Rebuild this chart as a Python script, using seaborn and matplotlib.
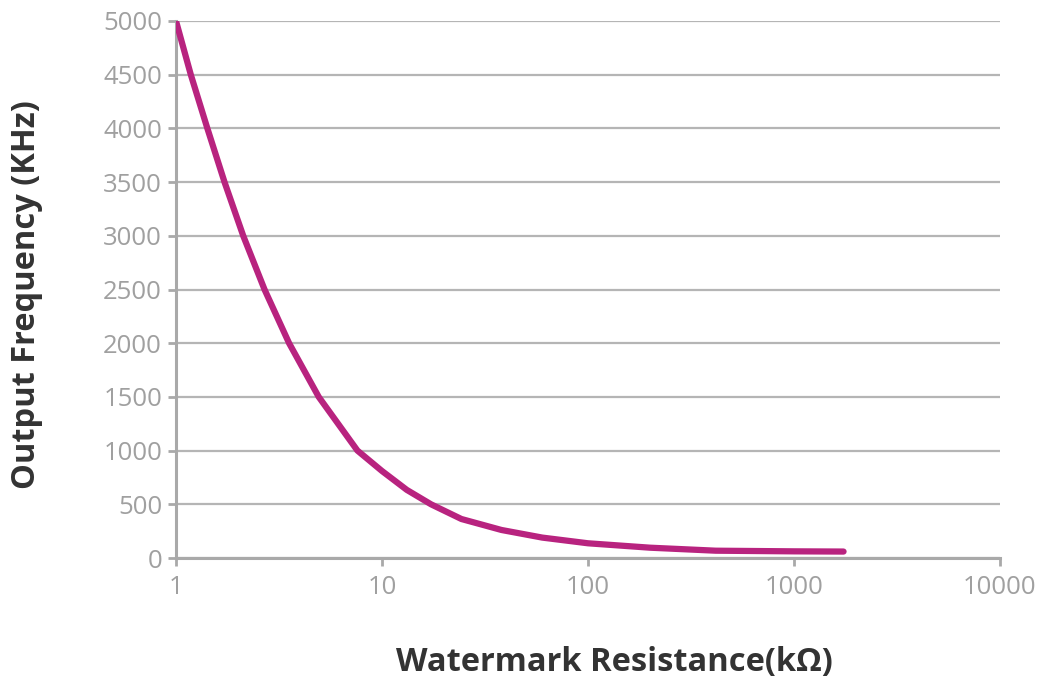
import matplotlib
matplotlib.use("Agg")
import matplotlib.pyplot as plt
import matplotlib.ticker as mticker
import numpy as np
import pandas as pd
import seaborn as sns

# values
resistance = [1, 1.18, 1.42, 1.72, 2.12, 2.69, 3.54, 4.93, 7.6, 10, 13.2, 17.3,
              24.3, 38, 60, 100, 200, 417, 1000, 1740]
frequency = [5000, 4500, 4000, 3500, 3000, 2500, 2000, 1500, 1000, 810, 634, 500,
             363, 261, 190, 137, 96, 68, 62, 60]

x_ticks = [1, 10, 100, 1000, 10000]
x_tick_labels = ["1", "10", "100", "1000", "10000"]
y_ticks = [0, 500, 1000, 1500, 2000, 2500, 3000, 3500, 4000, 4500, 5000]

df = pd.DataFrame({"res": resistance, "freq": frequency})

sns.set_style("white")
plt.rcParams["font.family"] = ["Open Sans", "DejaVu Sans"]

grey = "#a9a9a9"
fig = plt.figure(figsize=(10.43, 6.79), dpi=100)
ax = fig.add_axes([176 / 1043, 1 - 558 / 679, (1000 - 176) / 1043, (558 - 21) / 679])

sns.lineplot(data=df, x="res", y="freq", ax=ax, color="#b8237f", linewidth=4.5,
             solid_capstyle="round", solid_joinstyle="round", zorder=5)

ax.set_xscale("log")
ax.set_xlim(1, 10000)
ax.set_ylim(0, 5000)
ax.set_xticks(x_ticks)
ax.xaxis.set_major_formatter(mticker.FixedFormatter(x_tick_labels))
ax.xaxis.set_minor_locator(mticker.NullLocator())
ax.set_yticks(y_ticks)

ax.grid(axis="y", color="#b5b5b5", linewidth=1.6)
ax.set_axisbelow(True)
for side in ["top", "right"]:
    ax.spines[side].set_visible(False)
for side in ["left", "bottom"]:
    ax.spines[side].set_color(grey)
    ax.spines[side].set_linewidth(2.2)

ax.tick_params(axis="both", colors=grey, labelcolor="#a0a0a0", labelsize=18.5,
               length=6, width=2, direction="out", bottom=True, left=True)
ax.tick_params(axis="x", pad=6)
ax.tick_params(axis="y", pad=4)

ax.set_xlabel("Watermark Resistance(k\u03a9)", fontsize=23.5, fontweight="bold", color="#333333")
ax.set_ylabel("Output Frequency (KHz)", fontsize=23.5, fontweight="bold", color="#333333")
ax.xaxis.set_label_coords((614 - 176) / 824, -(662 - 558) / 537, transform=ax.transAxes)
ax.yaxis.set_label_coords(-(176 - 27) / 824, (558 - 295) / 537, transform=ax.transAxes)
ax.xaxis.label.set_va("center")
ax.yaxis.label.set_va("center")

fig.savefig("out.png", dpi=100)
